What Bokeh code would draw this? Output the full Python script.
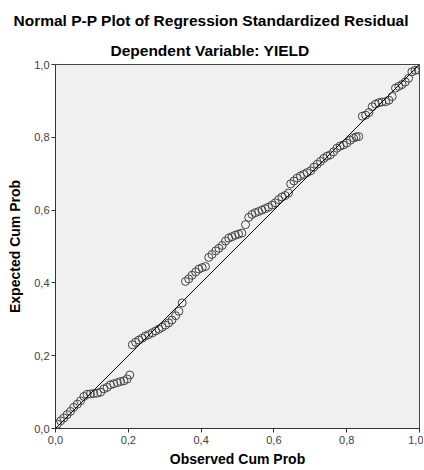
from bokeh.plotting import figure
from bokeh.models import Title, FixedTicker, CustomJSTickFormatter, Range1d, ColumnDataSource
from bokeh.embed import file_html
from bokeh.resources import INLINE

# Observed cumulative probability (x) and expected cumulative probability (y)
obs_cum_prob = [
    0.005, 0.014, 0.023, 0.032, 0.041, 0.050, 0.060, 0.069, 0.078, 0.087,
    0.096, 0.105, 0.115, 0.124, 0.133, 0.142, 0.151, 0.160, 0.170, 0.179,
    0.188, 0.197, 0.204,
    0.211, 0.220, 0.229, 0.238, 0.247, 0.256, 0.266, 0.275, 0.284, 0.293,
    0.302, 0.311, 0.320, 0.330, 0.339, 0.348,
    0.357, 0.366, 0.375, 0.385, 0.394, 0.403, 0.412, 0.421, 0.430, 0.440,
    0.449, 0.458, 0.467, 0.476, 0.485, 0.494, 0.503, 0.512, 0.522, 0.531,
    0.540, 0.549, 0.558, 0.567, 0.576, 0.585, 0.595, 0.604, 0.613, 0.622,
    0.631, 0.640,
    0.646, 0.655, 0.664, 0.673, 0.682, 0.691, 0.701, 0.710, 0.719, 0.728,
    0.737, 0.746, 0.755, 0.764, 0.773, 0.782, 0.791, 0.800, 0.810, 0.819,
    0.826, 0.833,
    0.843, 0.852, 0.861, 0.870, 0.879, 0.888, 0.897, 0.907, 0.916, 0.925,
    0.934, 0.943, 0.952, 0.961, 0.970, 0.979, 0.988, 0.997,
]
exp_cum_prob = [
    0.012, 0.021, 0.029, 0.038, 0.047, 0.058, 0.067, 0.076, 0.088, 0.094,
    0.095, 0.096, 0.097, 0.100, 0.109, 0.113, 0.120, 0.123, 0.126, 0.129,
    0.131, 0.136, 0.147,
    0.230, 0.237, 0.243, 0.248, 0.254, 0.258, 0.263, 0.268, 0.273, 0.278,
    0.284, 0.290, 0.298, 0.310, 0.322, 0.345,
    0.404, 0.411, 0.421, 0.430, 0.438, 0.442, 0.445, 0.470, 0.478, 0.488,
    0.495, 0.503, 0.515, 0.523, 0.527, 0.531, 0.534, 0.537, 0.560, 0.580,
    0.588, 0.593, 0.596, 0.600, 0.604, 0.608, 0.614, 0.620, 0.629, 0.636,
    0.640, 0.647,
    0.672, 0.680, 0.688, 0.694, 0.698, 0.703, 0.708, 0.718, 0.726, 0.734,
    0.742, 0.748, 0.752, 0.760, 0.770, 0.776, 0.779, 0.784, 0.792, 0.798,
    0.801, 0.802,
    0.858, 0.861, 0.868, 0.884, 0.891, 0.895, 0.897, 0.898, 0.902, 0.912,
    0.935, 0.940, 0.945, 0.952, 0.962, 0.980, 0.984, 0.985,
]
ref_line_x = [0.0, 1.0]
ref_line_y = [0.0, 1.0]
tick_values = [0.0, 0.2, 0.4, 0.6, 0.8, 1.0]

FONT = "Liberation Sans"

p = figure(
    frame_width=364, frame_height=364,
    min_border_left=55, min_border_right=4, min_border_top=64, min_border_bottom=41,
    x_range=Range1d(0, 1), y_range=Range1d(0, 1),
    output_backend="svg", toolbar_location=None,
    background_fill_color="#f0f0f0", border_fill_color="white",
)

p.add_layout(Title(text="Dependent Variable: YIELD", align="left", offset=55,
                   text_font=FONT, text_font_size="15.5px", text_font_style="bold",
                   text_color="black", standoff=11), "above")
p.add_layout(Title(text="Normal P-P Plot of Regression Standardized Residual", align="left", offset=-42,
                   text_font=FONT, text_font_size="15.5px", text_font_style="bold",
                   text_color="black", standoff=12), "above")

src = ColumnDataSource(dict(x=obs_cum_prob, y=exp_cum_prob))
p.scatter("x", "y", source=src, marker="circle", size=8, fill_color=None,
          line_color="#444444", line_width=1)
p.line(ref_line_x, ref_line_y, line_color="black", line_width=1)

p.grid.visible = False
p.outline_line_color = "#444444"
p.outline_line_width = 1

fmt = CustomJSTickFormatter(code="return tick.toFixed(1).replace('.', ',');")
for ax in (p.xaxis[0], p.yaxis[0]):
    ax.ticker = FixedTicker(ticks=tick_values)
    ax.formatter = fmt
    ax.minor_tick_line_color = None
    ax.major_tick_out = 4
    ax.major_tick_in = 0
    ax.axis_line_color = "#333333"
    ax.major_tick_line_color = "#333333"
    ax.major_label_text_font = FONT
    ax.major_label_text_font_size = "11px"
    ax.major_label_text_color = "#404040"
    ax.axis_label_text_font = FONT
    ax.axis_label_text_font_size = "14px"
    ax.axis_label_text_font_style = "bold"
    ax.axis_label_text_color = "black"

p.xaxis[0].axis_label = "Observed Cum Prob"
p.yaxis[0].axis_label = "Expected Cum Prob"
p.xaxis[0].major_label_standoff = 3
p.xaxis[0].axis_label_standoff = 4
p.yaxis[0].major_label_standoff = 2
p.yaxis[0].axis_label_standoff = 8

open("out.html", "w").write(file_html(p, INLINE))
